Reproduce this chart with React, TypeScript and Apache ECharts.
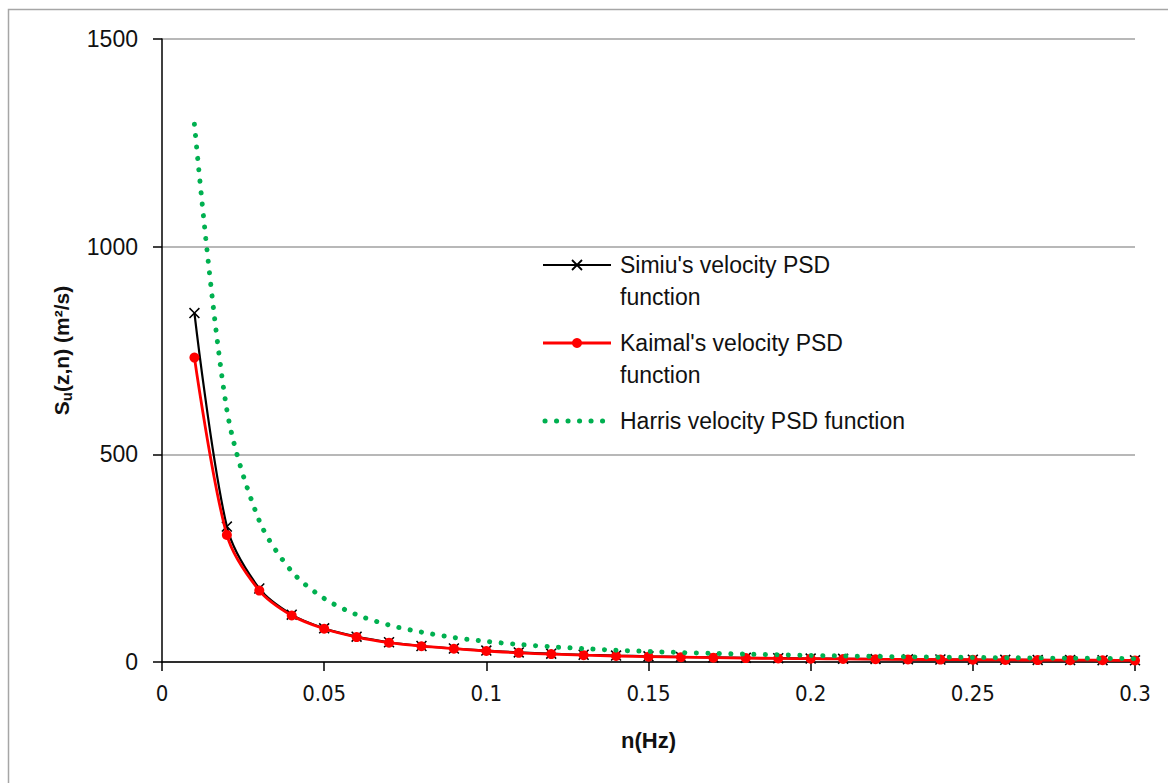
import React, { useEffect, useRef } from "react";
import * as echarts from "echarts";

const freqs = [0.01, 0.02, 0.03, 0.04, 0.05, 0.06, 0.07, 0.08, 0.09, 0.1, 0.11, 0.12, 0.13, 0.14, 0.15, 0.16, 0.17, 0.18, 0.19, 0.2, 0.21, 0.22, 0.23, 0.24, 0.25, 0.26, 0.27, 0.28, 0.29, 0.3];
const simiu = [840, 326, 177, 114, 81, 61, 47.5, 38.5, 32.5, 27.5, 23, 20, 17.5, 15.5, 13.7, 12.2, 11, 10, 9.1, 8.3, 7.6, 7.0, 6.5, 6.0, 5.6, 5.2, 4.9, 4.6, 4.3, 4.1];
const kaimal = [733, 306, 172, 112, 80, 60, 46.6, 38, 32, 26.5, 22, 19, 16.5, 14.5, 12.9, 11.6, 10.5, 9.5, 8.7, 8.0, 7.3, 6.7, 6.2, 5.8, 5.4, 5.0, 4.7, 4.4, 4.2, 3.9];
const harris = [1295, 607, 340, 218, 153, 114, 89, 72, 59, 49.5, 42.4, 36.8, 32.2, 28.5, 25.4, 22.8, 20.6, 18.8, 17.2, 15.8, 14.5, 13.4, 12.5, 11.6, 10.9, 10.2, 9.6, 9.0, 8.5, 8.0];

const seriesNames = ["Simiu's velocity PSD function", "Kaimal's velocity PSD function", "Harris velocity PSD function"];
const legendLines = [["Simiu's velocity PSD", "function"], ["Kaimal's velocity PSD", "function"], ["Harris velocity PSD function"]];
const xTicks = { min: 0, max: 0.3, interval: 0.05 };
const yTicks = { min: 0, max: 1500, interval: 500 };

const pair = (ys: number[]) => freqs.map((x, i) => [x, ys[i]]);

const CROSS = "path://M0,1L1,0L5,4L9,0L10,1L6,5L10,9L9,10L5,6L1,10L0,9L4,5Z";
const LEGEND_FONT = "'Liberation Sans', Arial, sans-serif";

export default function App() {
  const ref = useRef<HTMLDivElement>(null);
  useEffect(() => {
    if (!ref.current) return;
    const chart = echarts.init(ref.current, undefined, { renderer: "svg" });

    const lx0 = 543, lx1 = 611, tx = 620;
    const rowY = [265, 343, 421];
    const lineH = 32;
    const legendGraphics: any[] = [];
    // Simiu
    legendGraphics.push({ type: "line", shape: { x1: lx0, y1: rowY[0], x2: lx1, y2: rowY[0] }, style: { stroke: "#000", lineWidth: 2.2 } });
    legendGraphics.push({ type: "line", shape: { x1: 572, y1: rowY[0] - 5, x2: 582, y2: rowY[0] + 5 }, style: { stroke: "#000", lineWidth: 1.8 } });
    legendGraphics.push({ type: "line", shape: { x1: 572, y1: rowY[0] + 5, x2: 582, y2: rowY[0] - 5 }, style: { stroke: "#000", lineWidth: 1.8 } });
    // Kaimal
    legendGraphics.push({ type: "line", shape: { x1: lx0, y1: rowY[1], x2: lx1, y2: rowY[1] }, style: { stroke: "#FF0000", lineWidth: 2.8 } });
    legendGraphics.push({ type: "circle", shape: { cx: 577, cy: rowY[1], r: 5 }, style: { fill: "#FF0000" } });
    // Harris
    legendGraphics.push({ type: "line", shape: { x1: lx0 + 2, y1: rowY[2], x2: lx1 - 4, y2: rowY[2] }, style: { stroke: "#00B050", lineWidth: 5, lineDash: [0.1, 11.4], lineCap: "round" } });
    legendLines.forEach((lines, i) => {
      lines.forEach((t, j) => {
        legendGraphics.push({
          type: "text",
          x: tx,
          y: rowY[i] + j * lineH,
          style: { text: t, font: `23px ${LEGEND_FONT}`, fill: "#111", textVerticalAlign: "middle", verticalAlign: "middle" },
        });
      });
    });

    chart.setOption({
      animation: false,
      backgroundColor: "#fff",
      grid: { left: 162, right: 33, top: 39, bottom: 121 },
      xAxis: {
        type: "value",
        min: xTicks.min,
        max: xTicks.max,
        interval: xTicks.interval,
        name: "n(Hz)",
        nameLocation: "middle",
        nameGap: 67,
        nameTextStyle: { fontFamily: LEGEND_FONT, fontWeight: "bold", fontSize: 22, color: "#111" },
        axisLine: { onZero: false, lineStyle: { color: "#000", width: 1.5 } },
        axisTick: { show: true, length: 9, lineStyle: { color: "#000", width: 1.5 } },
        axisLabel: {
          margin: 20,
          fontSize: 22,
          color: "#111",
          fontFamily: "'Liberation Sans Narrow', 'DejaVu Sans Condensed', 'Roboto Condensed', 'Liberation Sans', sans-serif",
          formatter: (v: number) => String(Math.round(v * 100) / 100),
        },
        splitLine: { show: false },
      },
      yAxis: {
        type: "value",
        min: yTicks.min,
        max: yTicks.max,
        interval: yTicks.interval,
        name: "{s|S}{u|u}{s|(z,n) (m²/s)}",
        nameLocation: "middle",
        nameGap: 88,
        nameRotate: 90,
        nameTextStyle: {
          rich: {
            s: { fontFamily: LEGEND_FONT, fontWeight: "bold", fontSize: 21, color: "#111", lineHeight: 25 },
            u: { fontFamily: LEGEND_FONT, fontWeight: "bold", fontSize: 15, color: "#111", verticalAlign: "bottom", lineHeight: 15, padding: [10, 0, 0, 0] },
          },
        },
        axisLine: { show: true, lineStyle: { color: "#000", width: 1.5 } },
        axisTick: { show: true, length: 9, lineStyle: { color: "#000", width: 1.5 } },
        axisLabel: { margin: 24, fontSize: 23, color: "#111", fontFamily: LEGEND_FONT, formatter: (v: number) => String(v) },
        splitLine: { show: true, lineStyle: { color: "#A0A0A0", width: 1.5 } },
      },
      series: [
        {
          name: seriesNames[0],
          type: "line",
          data: pair(simiu),
          smooth: 0.3,
          symbol: CROSS,
          symbolSize: 11,
          showSymbol: true,
          lineStyle: { color: "#000", width: 2.2 },
          itemStyle: { color: "#000" },
          z: 2,
        },
        {
          name: seriesNames[1],
          type: "line",
          data: pair(kaimal),
          smooth: 0.3,
          symbol: "circle",
          symbolSize: 10,
          showSymbol: true,
          lineStyle: { color: "#FF0000", width: 2.8 },
          itemStyle: { color: "#FF0000" },
          z: 3,
        },
        {
          name: seriesNames[2],
          type: "line",
          data: pair(harris),
          smooth: 0.3,
          showSymbol: false,
          lineStyle: { color: "#00B050", width: 5, type: [0.1, 11.4], cap: "round" },
          itemStyle: { color: "#00B050" },
          z: 4,
        },
      ],
      graphic: [
        {
          type: "rect",
          shape: { x: 8.5, y: 9.5, width: 1300, height: 900 },
          style: { fill: "none", stroke: "#A6A6A6", lineWidth: 1.5 },
          silent: true,
          z: 0,
        },
        ...legendGraphics,
      ],
    });
    return () => chart.dispose();
  }, []);
  return <div ref={ref} style={{ position: "fixed", left: 0, top: 0, width: 1168, height: 783 }} />;
}
